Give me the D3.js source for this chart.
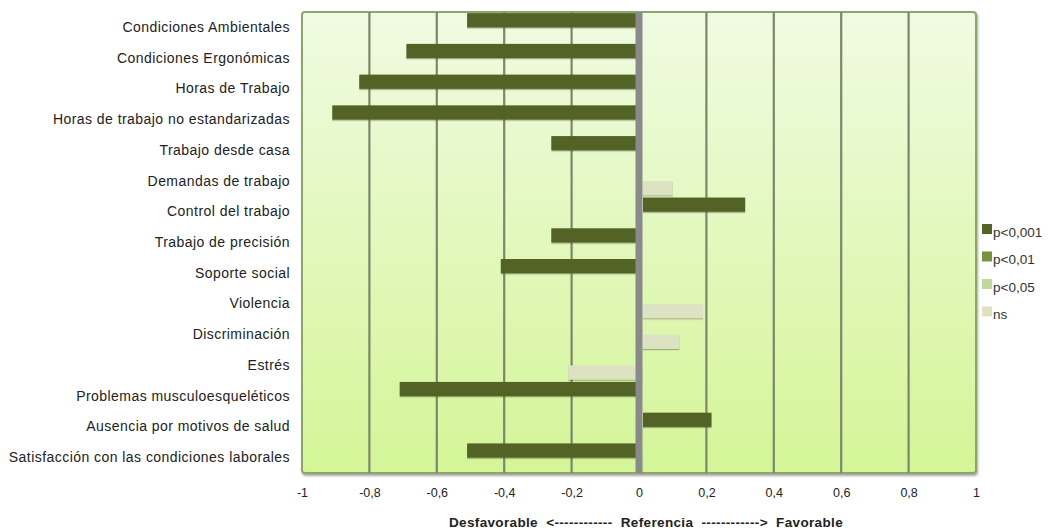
<!DOCTYPE html>
<html>
<head>
<meta charset="utf-8">
<script src="https://cdn.jsdelivr.net/npm/d3@7"></script>
<style>
  html, body { margin: 0; padding: 0; background: #ffffff; }
  svg { display: block; }
</style>
</head>
<body>
<svg id="chart" width="1064" height="532"></svg>
<script>
// ---- Data ----
const categories = [
  "Condiciones Ambientales",
  "Condiciones Ergonómicas",
  "Horas de Trabajo",
  "Horas de trabajo no estandarizadas",
  "Trabajo desde casa",
  "Demandas de trabajo",
  "Control del trabajo",
  "Trabajo de precisión",
  "Soporte social",
  "Violencia",
  "Discriminación",
  "Estrés",
  "Problemas musculoesqueléticos",
  "Ausencia por motivos de salud",
  "Satisfacción con las condiciones laborales"
];
const values = [-0.51, -0.69, -0.83, -0.91, -0.26, 0.10, 0.315, -0.26, -0.41, 0.19, 0.12, -0.21, -0.71, 0.215, -0.51];
const significance = ["p<0,001", "p<0,001", "p<0,001", "p<0,001", "p<0,001", "ns", "p<0,001", "p<0,001", "p<0,001", "ns", "ns", "ns", "p<0,001", "p<0,001", "p<0,001"];
const seriesNames = ["p<0,001", "p<0,01", "p<0,05", "ns"];
const seriesSlot = ["upper", "upper", "lower", "lower"];
const seriesColors = ["#536326", "#77933c", "#c3d69b", "#dde2c3"];
const tickValues = [-1, -0.8, -0.6, -0.4, -0.2, 0, 0.2, 0.4, 0.6, 0.8, 1];
const axisTitle = "Desfavorable  <------------  Referencia  ------------>  Favorable";

// ---- Layout ----
const svg = d3.select("#chart");
const plot = { left: 302, right: 976, top: 12, bottom: 473 };
const x = d3.scaleLinear().domain([-1, 1]).range([plot.left, plot.right]);
const y = d3.scaleBand().domain(categories).range([plot.top, plot.bottom]).padding(0);
const ySlot = d3.scaleBand().domain(["upper", "lower"]).range([0, y.bandwidth()]).paddingOuter(0.08).paddingInner(0);
const colorOf = d3.scaleOrdinal().domain(seriesNames).range(seriesColors);
const slotOf = d3.scaleOrdinal().domain(seriesNames).range(seriesSlot);

const defs = svg.append("defs");
const grad = defs.append("linearGradient").attr("id", "bg").attr("x1", 0).attr("y1", 0).attr("x2", 0).attr("y2", 1);
grad.append("stop").attr("offset", "0%").attr("stop-color", "#f0fbe2");
grad.append("stop").attr("offset", "100%").attr("stop-color", "#d4f597");
const sh = defs.append("filter").attr("id", "shadow").attr("x", "-5%").attr("y", "-5%").attr("width", "110%").attr("height", "115%");
sh.append("feDropShadow").attr("dx", 1).attr("dy", 2).attr("stdDeviation", 1.2).attr("flood-color", "#000").attr("flood-opacity", 0.35);
const bsh = defs.append("filter").attr("id", "barshadow").attr("x", "-5%").attr("y", "-20%").attr("width", "110%").attr("height", "160%");
bsh.append("feDropShadow").attr("dx", 0).attr("dy", 1.2).attr("stdDeviation", 0.6).attr("flood-color", "#4a5530").attr("flood-opacity", 0.45);

// Plot background
svg.append("rect")
  .attr("x", plot.left).attr("y", plot.top)
  .attr("width", plot.right - plot.left).attr("height", plot.bottom - plot.top)
  .attr("rx", 3).attr("ry", 3)
  .attr("fill", "url(#bg)")
  .attr("stroke", "#8ea56a").attr("stroke-width", 2)
  .attr("filter", "url(#shadow)");

// Gridlines
svg.append("g").selectAll("line")
  .data(tickValues.filter(t => t !== 0 && Math.abs(t) !== 1))
  .join("line")
  .attr("x1", d => x(d)).attr("x2", d => x(d))
  .attr("y1", plot.top).attr("y2", plot.bottom)
  .attr("stroke", "#7a876b").attr("stroke-width", 2.2);

// Bars
svg.append("g").selectAll("rect")
  .data(categories.map((c, i) => ({ c, v: values[i], s: significance[i] })))
  .join("rect")
  .attr("x", d => d.v < 0 ? x(d.v) : x(0) + 4)
  .attr("width", d => d.v < 0 ? x(0) - 3 - x(d.v) : x(d.v) - x(0) - 4)
  .attr("y", d => y(d.c) + ySlot(slotOf(d.s)))
  .attr("height", ySlot.bandwidth())
  .attr("fill", d => colorOf(d.s))
  .attr("filter", "url(#barshadow)");

// Zero reference line
svg.append("line")
  .attr("x1", x(0)).attr("x2", x(0))
  .attr("y1", plot.top).attr("y2", plot.bottom)
  .attr("stroke", "#8a8a8c").attr("stroke-width", 7);

// Category labels
svg.append("g").selectAll("text")
  .data(categories)
  .join("text")
  .attr("x", 290)
  .attr("y", d => y(d) + y.bandwidth() / 2 - 0.5)
  .attr("text-anchor", "end")
  .attr("dominant-baseline", "central")
  .attr("font-family", "'Liberation Sans', Arial, sans-serif")
  .attr("font-size", 14)
  .attr("letter-spacing", 0.45)
  .attr("fill", "#222")
  .text(d => d);

// X axis tick labels
const fmt = v => v === 0 ? "0" : String(v).replace(".", ",");
const xAxis = d3.axisBottom(x).tickValues(tickValues).tickFormat(fmt).tickSize(0).tickPadding(0);
const gx = svg.append("g").attr("transform", `translate(0, ${plot.bottom + 15})`).call(xAxis);
gx.select(".domain").remove();
gx.selectAll("text")
  .attr("font-family", "'Liberation Sans Narrow', 'Liberation Sans', Arial, sans-serif")
  .attr("font-size", 12.5)
  .attr("fill", "#222");

// Axis title
svg.append("text")
  .attr("x", 646).attr("y", 527)
  .attr("text-anchor", "middle")
  .attr("font-family", "'Liberation Sans', Arial, sans-serif")
  .attr("font-weight", "bold")
  .attr("font-size", 13.5)
  .attr("letter-spacing", 0.35)
  .attr("fill", "#222")
  .attr("xml:space", "preserve")
  .style("white-space", "pre")
  .text(axisTitle);

// Legend
const legend = svg.append("g").attr("transform", "translate(982, 224)");
const li = legend.selectAll("g").data(seriesNames).join("g")
  .attr("transform", (d, i) => `translate(0, ${i * 27.5})`);
li.append("rect").attr("x", 0).attr("y", 0).attr("width", 10).attr("height", 10)
  .attr("fill", d => colorOf(d));
li.append("text").attr("x", 11).attr("y", 12.5)
  .attr("font-family", "'Liberation Sans', Arial, sans-serif")
  .attr("font-size", 13.5)
  .attr("fill", "#333")
  .text(d => d);
</script>
</body>
</html>
